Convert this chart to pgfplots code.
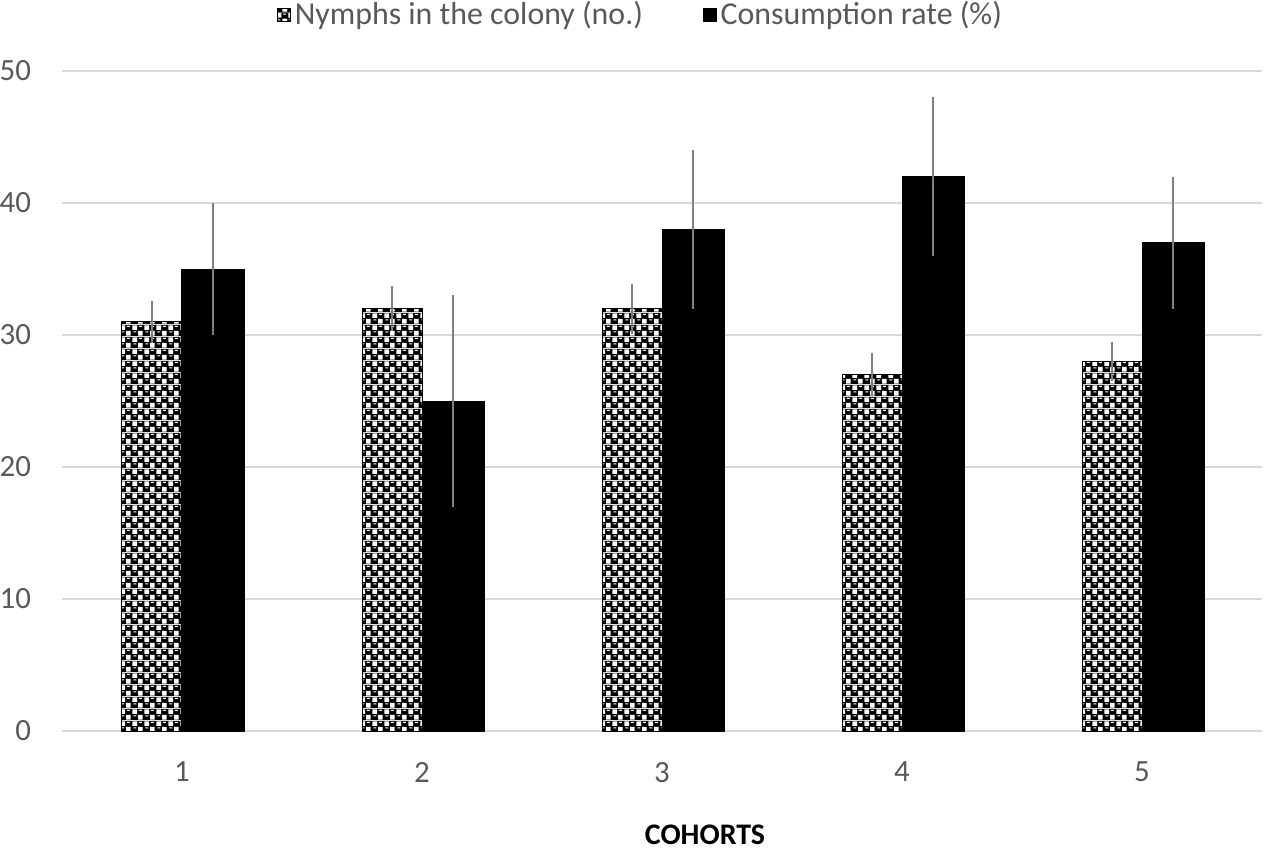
\documentclass[border=0pt]{standalone}
\usepackage{fontspec}
\setmainfont{Carlito}
\usepackage{pgfplots}
\pgfplotsset{compat=1.18}
\usetikzlibrary{patterns}
\definecolor{txtgray}{HTML}{595959}
\definecolor{gridgray}{HTML}{D9D9D9}
\definecolor{errgray}{HTML}{7F7F7F}
\pgfdeclarepatterninherentlycolored{mycheck}{\pgfpointorigin}{\pgfpoint{6bp}{6bp}}{\pgfpoint{6bp}{6bp}}{%
  \pgfsetfillcolor{black}%
  \pgfpathrectangle{\pgfpointorigin}{\pgfpoint{6bp}{6bp}}\pgfusepath{fill}%
  \pgfsetfillcolor{white}%
  \pgfpathrectangle{\pgfpoint{0.25bp}{3.25bp}}{\pgfpoint{2.5bp}{2.5bp}}%
  \pgfpathrectangle{\pgfpoint{3.25bp}{0.25bp}}{\pgfpoint{2.5bp}{2.5bp}}%
  \pgfpathrectangle{\pgfpoint{0.7bp}{1.9bp}}{\pgfpoint{1.6bp}{0.55bp}}%
  \pgfpathrectangle{\pgfpoint{3.7bp}{4.9bp}}{\pgfpoint{1.6bp}{0.55bp}}\pgfusepath{fill}%
}
\begin{document}
\fontsize{16}{19}\selectfont
\begin{tikzpicture}
\begin{axis}[
  scale only axis,
  width=600bp, height=330bp,
  at={(0,0)}, anchor=south west,
  xmin=0.5, xmax=5.5, ymin=0, ymax=50,
  enlarge x limits=false,
  ybar,
  xtick={1,2,3,4,5},
  xticklabels={1,2,3,4,5},
  ytick={0,10,20,30,40,50},
  /pgf/number format/assume math mode=true,
  major tick length=0pt,
  axis line style={draw=none},
  ymajorgrids,
  grid style={draw=gridgray, line width=1bp},
  tick label style={font=\fontsize{15.5}{18}\selectfont, text=txtgray},
  yticklabel style={xshift=-10bp},
  xticklabel style={yshift=-10bp},
  legend style={at={(0.483,1.085)}, anchor=center, draw=none, fill=none,
    legend columns=2, font=\fontsize{16}{19}\selectfont, text=txtgray,
    /tikz/every even column/.append style={column sep=28bp},
    inner sep=0pt},
  legend image code/.code={\draw[#1, line width=0.4bp] (0bp,-3.2bp) rectangle (6.4bp,3.2bp);},
]
\addplot[ybar, bar width=30bp, bar shift=-15bp, draw=black, line width=0.5bp, pattern=mycheck,
  error bars/.cd, y dir=both, y explicit, error mark=none,
  error bar style={draw=errgray, line width=1bp}]
  coordinates {(1,31) +- (0,1.6) (2,32) +- (0,1.7) (3,32) +- (0,1.9) (4,27) +- (0,1.6) (5,28) +- (0,1.5)};
\addlegendentry{Nymphs in the colony (no.)}
\addplot[ybar, bar width=31bp, bar shift=15.5bp, draw=black, fill=black, line width=0.5bp,
  error bars/.cd, y dir=both, y explicit, error mark=none,
  error bar style={draw=errgray, line width=1bp}]
  coordinates {(1,35) +- (0,5) (2,25) +- (0,8) (3,38) +- (0,6) (4,42) +- (0,6) (5,37) +- (0,5)};
\addlegendentry{Consumption rate (\%)}
\end{axis}
\node[font=\fontsize{15}{18}\selectfont\bfseries, text=black] at (321.5bp,-52bp) {COHORTS};
\pgfresetboundingbox
\path[use as bounding box] (-31bp,-60.5bp) rectangle (602bp,365.5bp);
\end{tikzpicture}
\end{document}
